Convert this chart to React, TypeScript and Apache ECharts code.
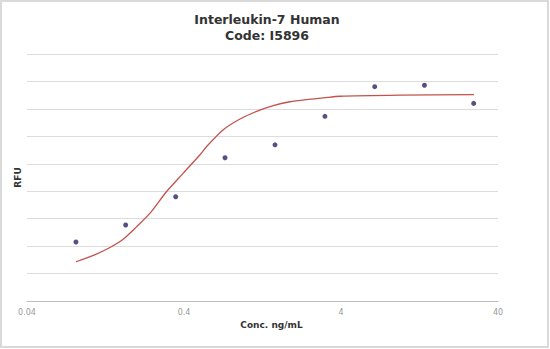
import React, { useEffect, useRef } from "react";
import * as echarts from "echarts";

// Measured points (concentration ng/mL, RFU in gridline units)
const pointConc = [0.082, 0.17, 0.354, 0.73, 1.52, 3.16, 6.56, 13.6, 28];
const pointRFU = [2.15, 2.77, 3.8, 5.22, 5.69, 6.73, 7.81, 7.86, 7.2];

// Fitted curve
const curveConc = [0.082, 0.106, 0.135, 0.164, 0.2, 0.243, 0.31, 0.396, 0.506, 0.558, 0.712, 0.909, 1.16, 1.48, 1.89, 2.42, 3.09, 3.94, 9.5, 28.1];
const curveRFU = [1.43, 1.66, 1.95, 2.25, 2.71, 3.2, 3.99, 4.66, 5.33, 5.63, 6.24, 6.63, 6.91, 7.12, 7.26, 7.34, 7.4, 7.46, 7.5, 7.52];

const xTickLabels = [0.04, 0.4, 4, 40];

const titleLines = ["Interleukin-7 Human", "Code: I5896"];

export default function App() {
  const ref = useRef<HTMLDivElement>(null);
  useEffect(() => {
    if (!ref.current) return;
    const chart = echarts.init(ref.current, undefined, { renderer: "svg" });
    chart.setOption({
      animation: false,
      backgroundColor: "#ffffff",
      title: {
        text: titleLines.join("\n"),
        left: 262,
        textAlign: "center",
        top: 7,
        textStyle: {
          fontFamily: "DejaVu Sans",
          fontWeight: "bold",
          fontSize: 12.5,
          lineHeight: 15.5,
          color: "#333333",
        },
      },
      graphic: [
        {
          type: "rect",
          shape: { x: 1, y: 1, width: 547, height: 346 },
          style: { fill: "none", stroke: "#d9d9d9", lineWidth: 2 },
          silent: true,
        },
      ],
      grid: { left: 27, right: 52, top: 54, bottom: 48 },
      xAxis: {
        type: "log",
        logBase: 10,
        min: 0.04,
        max: 40,
        name: "Conc. ng/mL",
        nameLocation: "middle",
        nameGap: 16,
        nameTextStyle: {
          fontFamily: "DejaVu Sans",
          fontWeight: "bold",
          fontSize: 9,
          color: "#333333",
          padding: [0, 0, 0, 18],
        },
        axisLine: { show: true, lineStyle: { color: "#bdbdbd", width: 1 } },
        axisTick: { show: false },
        splitLine: { show: false },
        minorSplitLine: { show: false },
        axisLabel: {
          customValues: xTickLabels,
          formatter: (v: number) => String(v),
          fontFamily: "DejaVu Sans",
          fontSize: 8,
          color: "#9a9a9a",
          margin: 7,
        },
      },
      yAxis: {
        type: "value",
        min: 0,
        max: 9,
        interval: 1,
        name: "RFU",
        nameLocation: "middle",
        nameGap: 5,
        nameTextStyle: {
          fontFamily: "DejaVu Sans",
          fontWeight: "bold",
          fontSize: 9,
          color: "#333333",
        },
        axisLine: { show: false },
        axisTick: { show: false },
        axisLabel: { show: false },
        splitLine: { show: true, lineStyle: { color: "#dcdcdc", width: 1 } },
      },
      series: [
        {
          type: "line",
          data: curveConc.map((c, i) => [c, curveRFU[i]]),
          showSymbol: false,
          smooth: 0.25,
          lineStyle: { color: "#c4524a", width: 1.3 },
          z: 2,
        },
        {
          type: "scatter",
          data: pointConc.map((c, i) => [c, pointRFU[i]]),
          symbolSize: 5,
          itemStyle: { color: "#2e2463" },
          z: 3,
        },
      ],
    });
    return () => chart.dispose();
  }, []);
  return (
    <div
      ref={ref}
      style={{ position: "fixed", left: 0, top: 0, width: 550, height: 349 }}
    />
  );
}
